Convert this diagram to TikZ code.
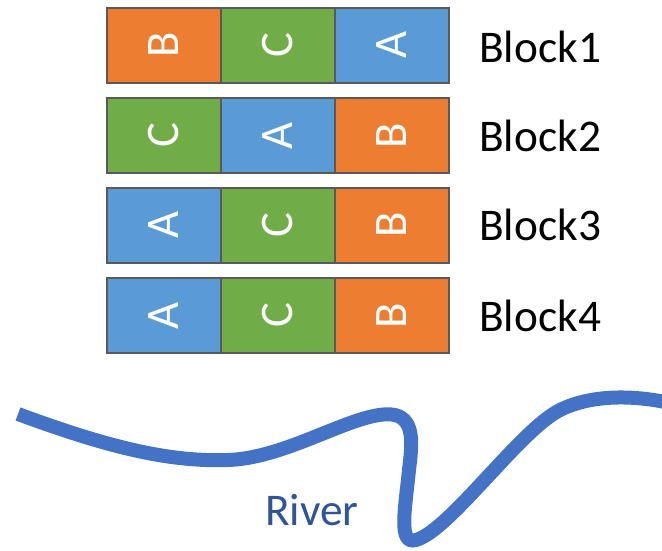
\documentclass[tikz,border=0pt]{standalone}
\usepackage{fontspec}
\setmainfont{Carlito}
\usepackage{xcolor}
\definecolor{trtA}{HTML}{5B9BD5}
\definecolor{trtB}{HTML}{ED7D31}
\definecolor{trtC}{HTML}{70AD47}
\definecolor{cellgray}{HTML}{595959}
\definecolor{riverblue}{HTML}{4472C4}
\definecolor{riverlabel}{HTML}{2F5597}
\newcommand{\labfont}{\fontsize{34}{40}\selectfont}
\newcommand{\cellfont}{\fontsize{35}{40}\selectfont}

\begin{document}
\begin{tikzpicture}[x=0.75pt, y=-0.75pt,
    cell/.style={draw=cellgray, line width=1.5pt, minimum width=85.5pt, minimum height=56.25pt, inner sep=0pt, text=white, font=\cellfont},
    cellA/.style={cell, fill=trtA},
    cellB/.style={cell, fill=trtB},
    cellC/.style={cell, fill=trtC},
    blocklab/.style={font=\labfont, inner sep=0pt, anchor=base west}]
    \useasboundingbox (0,0) rectangle (662,551);
    % the four blocks, one row each
    \node[cellB] (b1c1) at (164,45) {\rotatebox{90}{B}};
    \node[cellC] (b1c2) at (278,45) {\rotatebox{90}{C}};
    \node[cellA] (b1c3) at (391.5,45) {\rotatebox{90}{A}};
    \node[cellC] (b2c1) at (164,135.5) {\rotatebox{90}{C}};
    \node[cellA] (b2c2) at (278,135.5) {\rotatebox{90}{A}};
    \node[cellB] (b2c3) at (391.5,135.5) {\rotatebox{90}{B}};
    \node[cellA] (b3c1) at (164,225) {\rotatebox{90}{A}};
    \node[cellC] (b3c2) at (278,225) {\rotatebox{90}{C}};
    \node[cellB] (b3c3) at (391.5,225) {\rotatebox{90}{B}};
    \node[cellA] (b4c1) at (164,315.5) {\rotatebox{90}{A}};
    \node[cellC] (b4c2) at (278,315.5) {\rotatebox{90}{C}};
    \node[cellB] (b4c3) at (391.5,315.5) {\rotatebox{90}{B}};
    \node[blocklab] (lab1) at (479,62) {Block1};
    \node[blocklab] (lab2) at (479,151) {Block2};
    \node[blocklab] (lab3) at (479,240) {Block3};
    \node[blocklab] (lab4) at (479,331) {Block4};
    % river
    \draw[riverblue, line width=10.5pt] (18,414) .. controls (110,448) and (170,462) .. (228,460)
        .. controls (290,458) and (360,408) .. (395,415)
        .. controls (415,420) and (412,445) .. (409,470)
        .. controls (405,510) and (398,545) .. (416,540)
        .. controls (450,530) and (520,430) .. (560,410)
        .. controls (590,395) and (630,395) .. (665,402);
    \node[font=\labfont, text=riverlabel, inner sep=0pt] (river) at (312,510) {River};
\end{tikzpicture}
\end{document}
